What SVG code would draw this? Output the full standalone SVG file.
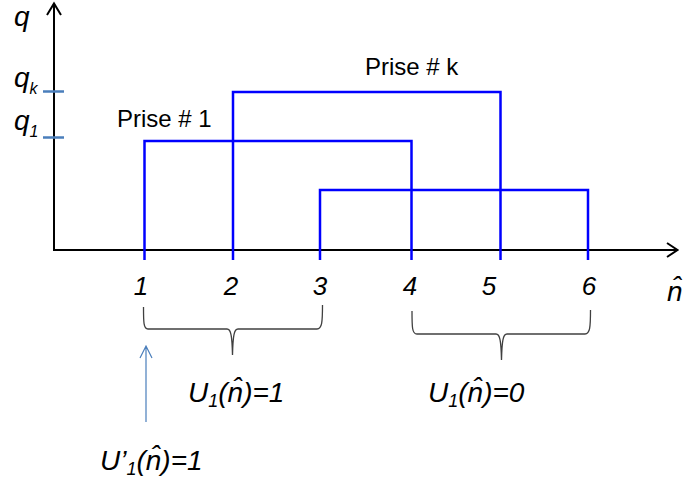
<svg xmlns="http://www.w3.org/2000/svg" width="684" height="487" viewBox="0 0 684 487">
<style>
.ax{stroke:#000;stroke-width:2;fill:none}
.pr{stroke:#0000FF;stroke-width:2.5;fill:none}
.tk{stroke:#4A7EBB;stroke-width:2.5}
.br{stroke:#404040;stroke-width:1.3;fill:none}
.ba{stroke:#4A7EBB;stroke-width:1.2;fill:none}
.it{font-family:"Liberation Sans",Arial,sans-serif;font-style:italic;fill:#000}
.lb{font-family:"Liberation Sans",Arial,sans-serif;font-size:24px;fill:#000}
.num{font-size:26px;text-anchor:middle}
.big{font-size:28px}
</style>
<rect width="684" height="487" fill="#fff"/>
<g id="axes">
<path class="ax" d="M54,251 V3 M47,15 L54,3.5 L61,15"/>
<path class="ax" d="M53,250 H677 M667,243 L677.5,250 L667,257"/>
<line class="tk" x1="43" y1="91.5" x2="64" y2="91.5"/>
<line class="tk" x1="43" y1="137.5" x2="64" y2="137.5"/>
</g>
<g id="axis-labels">
<text class="it big" x="14" y="26">q</text>
<text class="it big" x="14" y="87">q<tspan font-size="16" dy="7">k</tspan></text>
<text class="it big" x="14" y="130">q<tspan font-size="16" dy="7">1</tspan></text>
<text class="it big" x="667" y="301">n&#x302;</text>
</g>
<g id="prise1">
<path class="pr" d="M144.5,260 V141 H411.5 V260"/>
<text class="lb" x="117" y="127">Prise # 1</text>
</g>
<g id="prisek">
<path class="pr" d="M233,260 V92 H500.5 V260"/>
<text class="lb" x="365" y="75">Prise # k</text>
</g>
<g id="prise3">
<path class="pr" d="M320,260 V190 H588 V260"/>
</g>
<g id="ticks">
<text class="it num" x="141" y="295">1</text>
<text class="it num" x="231" y="295">2</text>
<text class="it num" x="320" y="295">3</text>
<text class="it num" x="410" y="295">4</text>
<text class="it num" x="489" y="295">5</text>
<text class="it num" x="589" y="295">6</text>
</g>
<g id="brace1">
<path class="br" d="M143.5,307 C143.5,322 143.5,329 148,329 H227 C231,329 232,336 232.5,355 C233,336 234,329 238,329 H317 C322,329 322.5,322 322.5,305"/>
<text class="it big" x="188" y="402">U<tspan font-size="18" dy="5">1</tspan><tspan dy="-5">(n&#x302;)=1</tspan></text>
</g>
<g id="brace2">
<path class="br" d="M412,311 C412,327 412,334 417,334 H496 C500,334 501,341 501.5,360 C502,341 503,334 507,334 H585 C590,334 590.5,327 590.5,310"/>
<text class="it big" x="428" y="402">U<tspan font-size="18" dy="5">1</tspan><tspan dy="-5">(n&#x302;)=0</tspan></text>
</g>
<g id="connectors">
<path class="ba" d="M146,422 V346 M140,358 L146,346 L152,358"/>
</g>
<g id="uprime">
<text class="it big" x="100" y="470">U’<tspan font-size="18" dy="5">1</tspan><tspan dy="-5">(n&#x302;)=1</tspan></text>
</g>
</svg>
